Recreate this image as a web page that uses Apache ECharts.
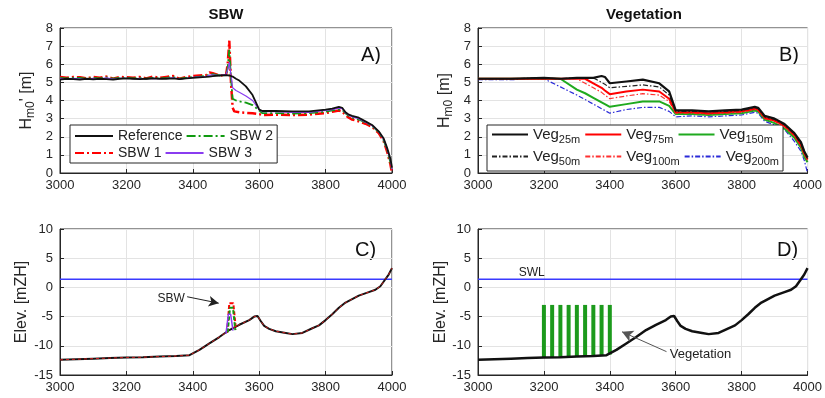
<!DOCTYPE html>
<html><head><meta charset="utf-8">
<script src="https://cdn.jsdelivr.net/npm/echarts@6/dist/echarts.min.js"></script>
<style>html,body{margin:0;padding:0;background:#fff}#c{width:825px;height:398px}</style>
</head><body><div id="c"></div><script>
// ---------- Panel A: Hm0 with submerged breakwaters ----------
const sbwX = [3000,3020,3040,3060,3080,3100,3120,3140,3160,3180,3200,3220,3240,3260,3280,3300,3320,3340,3360,3380,3400,3420,3440,
  3450,3460,3480,3500,3505,3510,3515,3520,3525,3530,3540,3560,3580,3600,3610,3650,3700,3750,3800,3820,3840,3850,3860,3870,3880,3900,3920,3940,3960,3975,3985,3995,4000];
const refH = [5.15,5.2,5.18,5.15,5.2,5.17,5.2,5.18,5.15,5.2,5.22,5.2,5.18,5.2,5.22,5.2,5.2,5.22,5.18,5.22,5.25,5.28,5.3,
  5.32,5.35,5.38,5.4,5.4,5.38,5.35,5.32,5.28,5.2,5.1,4.78,4.3,3.5,3.42,3.42,3.4,3.4,3.5,3.55,3.65,3.6,3.35,3.22,3.15,3.05,2.85,2.65,2.3,1.9,1.4,0.8,0.3];
const sbw1H = [5.3,5.25,5.3,5.28,5.22,5.3,5.25,5.32,5.2,5.3,5.28,5.25,5.3,5.22,5.32,5.25,5.3,5.35,5.2,5.3,5.35,5.38,5.4,
  5.55,5.5,5.38,5.4,6.0,7.3,5.0,3.6,3.4,3.38,3.35,3.32,3.3,3.25,3.2,3.22,3.2,3.22,3.3,3.38,3.45,3.4,3.2,3.05,2.95,2.85,2.72,2.55,2.2,1.75,1.2,0.5,0.0];
const sbw2H = [5.25,5.22,5.25,5.25,5.2,5.25,5.22,5.28,5.2,5.25,5.25,5.22,5.25,5.2,5.25,5.22,5.25,5.3,5.2,5.25,5.3,5.32,5.35,
  5.45,5.45,5.38,5.4,5.8,6.8,5.2,4.1,4.05,4.0,3.95,3.88,3.75,3.45,3.3,3.3,3.28,3.3,3.38,3.45,3.5,3.48,3.3,3.15,3.05,2.95,2.78,2.6,2.25,1.8,1.3,0.6,0.1];
const sbw3H = [5.22,5.2,5.22,5.2,5.18,5.22,5.2,5.25,5.18,5.22,5.22,5.2,5.22,5.2,5.22,5.2,5.22,5.25,5.2,5.22,5.28,5.3,5.32,
  5.4,5.42,5.38,5.45,5.7,6.1,5.4,4.7,4.6,4.55,4.45,4.25,4.0,3.5,3.38,3.38,3.35,3.35,3.45,3.5,3.58,3.55,3.32,3.18,3.1,3.0,2.8,2.62,2.28,1.85,1.35,0.7,0.2];

// ---------- Panel B: Hm0 with vegetation ----------
const vegX = [3000,3100,3200,3250,3300,3325,3350,3375,3385,3400,3450,3500,3550,3580,3600,3650,3700,3750,3800,3840,3850,3870,3900,3930,3960,3980,3990,4000];
const veg25  = [5.2,5.2,5.25,5.2,5.25,5.25,5.25,5.35,5.3,4.95,5.05,5.15,4.95,4.5,3.45,3.45,3.4,3.45,3.5,3.65,3.6,3.15,3.0,2.7,2.2,1.7,1.2,0.85];
const veg50  = [5.2,5.2,5.25,5.2,5.25,5.25,5.25,5.0,4.9,4.7,4.78,4.86,4.75,4.3,3.4,3.4,3.38,3.4,3.45,3.6,3.55,3.1,2.95,2.65,2.15,1.6,1.15,0.8];
const veg75  = [5.2,5.2,5.2,5.2,5.2,5.2,4.95,4.7,4.55,4.35,4.5,4.6,4.5,4.1,3.35,3.35,3.3,3.35,3.4,3.55,3.5,3.05,2.9,2.6,2.1,1.55,1.1,0.75];
const veg100 = [5.2,5.2,5.2,5.2,5.2,4.95,4.7,4.45,4.3,4.1,4.25,4.38,4.3,3.95,3.3,3.3,3.25,3.3,3.35,3.5,3.45,3.0,2.85,2.55,2.05,1.5,1.0,0.7];
const veg150 = [5.2,5.2,5.2,5.2,4.6,4.4,4.15,3.9,3.8,3.65,3.8,3.95,3.95,3.7,3.25,3.25,3.2,3.25,3.3,3.45,3.4,2.95,2.75,2.45,1.95,1.4,0.9,0.6];
const veg200 = [5.15,5.15,5.2,4.75,4.3,4.05,3.8,3.55,3.45,3.3,3.5,3.62,3.62,3.4,3.1,3.15,3.1,3.15,3.2,3.35,3.3,2.85,2.65,2.4,1.75,1.2,0.7,0.0];

// ---------- Panels C & D: bed profile ----------
const bedX = [3000,3050,3100,3150,3200,3250,3300,3350,3390,3420,3450,3480,3510,3540,3570,3585,3595,3600,3605,3615,3630,3650,3680,3700,3730,3760,3780,3800,3820,3840,3860,3880,3900,3930,3950,3965,3980,3990,4000];
const bedY = [-12.4,-12.3,-12.2,-12.1,-12.0,-11.95,-11.85,-11.75,-11.6,-10.7,-9.6,-8.5,-7.3,-6.4,-5.6,-5.0,-4.9,-5.0,-5.8,-6.6,-7.1,-7.5,-7.8,-8.0,-7.8,-7.0,-6.5,-5.6,-4.6,-3.5,-2.6,-2.0,-1.4,-0.8,-0.4,0.2,1.4,2.2,3.3];
const swl = 1.4;
const sbw1ShapeX = [3503,3510,3522,3530], sbw1ShapeY = [-7.8,-2.7,-2.7,-7.2];
const sbw2ShapeX = [3505,3512,3521,3528], sbw2ShapeY = [-7.7,-3.5,-3.5,-7.3];
const sbw3ShapeX = [3500,3507,3514,3521], sbw3ShapeY = [-7.9,-4.6,-4.6,-7.4];
const stemX = [3200,3225,3250,3275,3300,3325,3350,3375,3400];
const stemBottom = [-12.0,-11.97,-11.95,-11.9,-11.85,-11.8,-11.75,-11.7,-11.5];
const stemTop = [-3,-3,-3,-3,-3,-3,-3,-3,-3];

const FONT = "'Liberation Sans', Arial, sans-serif";
const zip = (xs, ys) => xs.map((x, i) => [x, ys[i]]);
const AX = '#262626';

function xAxis(gi){
  return {type:'value', gridIndex:gi, min:3000, max:4000, interval:200,
    axisLine:{show:true, onZero:false, lineStyle:{color:AX}},
    axisTick:{inside:true, length:4, lineStyle:{color:AX}},
    axisLabel:{color:AX, fontSize:13, fontFamily:FONT, margin:6, formatter: v => String(v)},
    splitLine:{show:true, lineStyle:{color:'#e3e3e3', width:1}}};
}
function yAxis(gi, min, max, interval, name, gap){
  return {type:'value', gridIndex:gi, min, max, interval,
    name, nameLocation:'middle', nameRotate:90, nameGap:gap,
    nameTextStyle:{color:AX, fontSize:16, fontFamily:FONT,
      rich:{a:{fontSize:16, fontFamily:FONT, color:AX}, s:{fontSize:12, fontFamily:FONT, color:AX, padding:[9,0,0,0]}}},
    axisLine:{show:true, onZero:false, lineStyle:{color:AX}},
    axisTick:{inside:true, length:4, lineStyle:{color:AX}},
    axisLabel:{color:AX, fontSize:13, fontFamily:FONT, margin:7},
    splitLine:{show:true, lineStyle:{color:'#e3e3e3', width:1}}};
}
function line(name, gi, data, color, width, type, z){
  return {name, type:'line', xAxisIndex:gi, yAxisIndex:gi, data, symbol:'none', showSymbol:false,
    lineStyle:{color, width, type: type || 'solid'}, itemStyle:{color}, z: z||2, silent:true};
}
const DASHDOT = [9,3,2,3];
const DASHDOT_S = [5,2,1.5,2];

const vegNames = {Veg25m:'25m', Veg50m:'50m', Veg75m:'75m', Veg100m:'100m', Veg150m:'150m', Veg200m:'200m'};

const option = {
  animation:false,
  backgroundColor:'#fff',
  textStyle:{fontFamily:FONT},
  grid:[
    {left:60, width:332, top:28, height:145, show:true, borderColor:AX, borderWidth:1, backgroundColor:'transparent'},
    {left:478, width:332, top:28, height:145, show:true, borderColor:AX, borderWidth:1, backgroundColor:'transparent'},
    {left:60, width:332, top:229, height:146, show:true, borderColor:AX, borderWidth:1, backgroundColor:'transparent'},
    {left:478, width:332, top:229, height:146, show:true, borderColor:AX, borderWidth:1, backgroundColor:'transparent'}
  ],
  xAxis:[xAxis(0), xAxis(1), xAxis(2), xAxis(3)],
  yAxis:[
    yAxis(0, 0, 8, 1, "{a|H}{s|m0}{a|' [m]}", 23),
    yAxis(1, 0, 8, 1, "{a|H}{s|m0}{a| [m]}", 23),
    yAxis(2, -15, 10, 5, "Elev. [mZH]", 30),
    yAxis(3, -15, 10, 5, "Elev. [mZH]", 28)
  ],
  legend:[
    {left:70, top:125, width:200, itemWidth:38, itemHeight:10, itemGap:3, padding:[4,4,3,4],
     backgroundColor:'#fff', borderColor:AX, borderWidth:1,
     itemStyle:{opacity:0},
     data:['Reference','SBW 2','SBW 1','SBW 3'],
     textStyle:{fontSize:14, fontFamily:FONT, color:'#222', width:58}},
    {left:487, top:125, width:323, itemWidth:36, itemHeight:10, itemGap:4, padding:[2,4,4,4],
     backgroundColor:'#fff', borderColor:AX, borderWidth:1,
     itemStyle:{opacity:0},
     data:['Veg25m','Veg75m','Veg150m','Veg50m','Veg100m','Veg200m'],
     formatter: n => '{a|Veg}{s|' + vegNames[n] + '}',
     textStyle:{fontSize:14, fontFamily:FONT, color:'#222', width:62,
       rich:{a:{fontSize:15, fontFamily:FONT, color:'#222'}, s:{fontSize:11, fontFamily:FONT, color:'#222', padding:[10,0,0,0]}}}}
  ],
  graphic:[
    {type:'text', x:226, y:7, style:{text:'SBW', textAlign:'center', font:'bold 15px ' + FONT, fill:'#111'}},
    {type:'text', x:644, y:7, style:{text:'Vegetation', textAlign:'center', font:'bold 15px ' + FONT, fill:'#111'}},
    {type:'text', x:361, y:45, style:{text:'A)', font:'20px ' + FONT, fill:'#111'}},
    {type:'text', x:779, y:45, style:{text:'B)', font:'20px ' + FONT, fill:'#111'}},
    {type:'text', x:355, y:240, style:{text:'C)', font:'20px ' + FONT, fill:'#111'}},
    {type:'text', x:777, y:240, style:{text:'D)', font:'20px ' + FONT, fill:'#111'}}
  ],
  series:[
    // Panel A
    line('SBW 1', 0, zip(sbwX, sbw1H), '#ff0000', 2.5, DASHDOT, 2),
    line('SBW 2', 0, zip(sbwX, sbw2H), '#109a10', 1.8, DASHDOT, 3),
    line('SBW 3', 0, zip(sbwX, sbw3H), '#8a3cf0', 1.2, 'solid', 4),
    line('Reference', 0, zip(sbwX, refH), '#111111', 1.8, 'solid', 5),
    // Panel B
    line('Veg200m', 1, zip(vegX, veg200), '#2a2ad8', 1.2, DASHDOT_S, 2),
    line('Veg150m', 1, zip(vegX, veg150), '#1faa1f', 2, 'solid', 3),
    line('Veg100m', 1, zip(vegX, veg100), '#ff3030', 1.2, DASHDOT_S, 4),
    line('Veg75m', 1, zip(vegX, veg75), '#ff0000', 2, 'solid', 5),
    line('Veg50m', 1, zip(vegX, veg50), '#222222', 1.2, DASHDOT_S, 6),
    line('Veg25m', 1, zip(vegX, veg25), '#111111', 2.2, 'solid', 7),
    // Panel C
    line('swlC', 2, [[3000, swl],[4000, swl]], '#3a3aff', 1.5, 'solid', 2),
    Object.assign(line('bedC', 2, zip(bedX, bedY), '#111111', 2, 'solid', 3), {
      markLine:{silent:true, symbol:['none','arrow'], symbolSize:[8,10], label:{show:false},
        lineStyle:{color:'#222', width:1, type:'solid'},
        data:[[{coord:[3383,-1.6]},{coord:[3478,-2.7]}]]},
      markPoint:{silent:true, symbol:'rect', symbolSize:1, itemStyle:{color:'rgba(0,0,0,0)'},
        label:{show:true, position:'inside', color:'#222', fontSize:12, fontFamily:FONT, formatter:'SBW'},
        data:[{coord:[3335,-1.9]}]}
    }),
    line('bedC1', 2, zip(bedX, bedY), '#ff2020', 0.8, [3,3], 4),
    line('shape1', 2, zip(sbw1ShapeX, sbw1ShapeY), '#ff0000', 2, [4,2], 5),
    line('shape2', 2, zip(sbw2ShapeX, sbw2ShapeY), '#109a10', 2, [4,2], 6),
    line('shape3', 2, zip(sbw3ShapeX, sbw3ShapeY), '#8a3cf0', 1.5, 'solid', 7),
    // Panel D
    Object.assign(line('swlD', 3, [[3000, swl],[4000, swl]], '#3a3aff', 1.5, 'solid', 2), {
      markPoint:{silent:true, symbol:'rect', symbolSize:1, itemStyle:{color:'rgba(0,0,0,0)'},
        label:{show:true, position:'inside', color:'#222', fontSize:12, fontFamily:FONT, formatter:'SWL'},
        data:[{coord:[3163,2.6]}]}
    }),
    {type:'custom', name:'stems', xAxisIndex:3, yAxisIndex:3, silent:true, z:3,
     data: stemX.map((x, i) => [x, stemBottom[i], stemTop[i]]),
     encode:{x:0, y:[1,2]},
     renderItem:(params, api) => {
       const p1 = api.coord([api.value(0), api.value(1)]);
       const p2 = api.coord([api.value(0), api.value(2)]);
       return {type:'line', shape:{x1:p1[0], y1:p1[1], x2:p2[0], y2:p2[1]}, style:{stroke:'#1c9a1c', lineWidth:4}};
     }},
    Object.assign(line('bedD', 3, zip(bedX, bedY), '#111111', 2.5, 'solid', 4), {
      markLine:{silent:true, symbol:['none','arrow'], symbolSize:[9,11], label:{show:false},
        lineStyle:{color:'#555', width:1, type:'solid'},
        data:[[{coord:[3572,-11.0]},{coord:[3437,-7.6]}]]},
      markPoint:{silent:true, symbol:'rect', symbolSize:1, itemStyle:{color:'rgba(0,0,0,0)'},
        label:{show:true, position:'inside', color:'#222', fontSize:13, fontFamily:FONT, formatter:'Vegetation'},
        data:[{coord:[3675,-11.4]}]}
    })
  ]
};
const chart = echarts.init(document.getElementById('c'), null, {renderer:'canvas'});
chart.setOption(option);
</script></body></html>
